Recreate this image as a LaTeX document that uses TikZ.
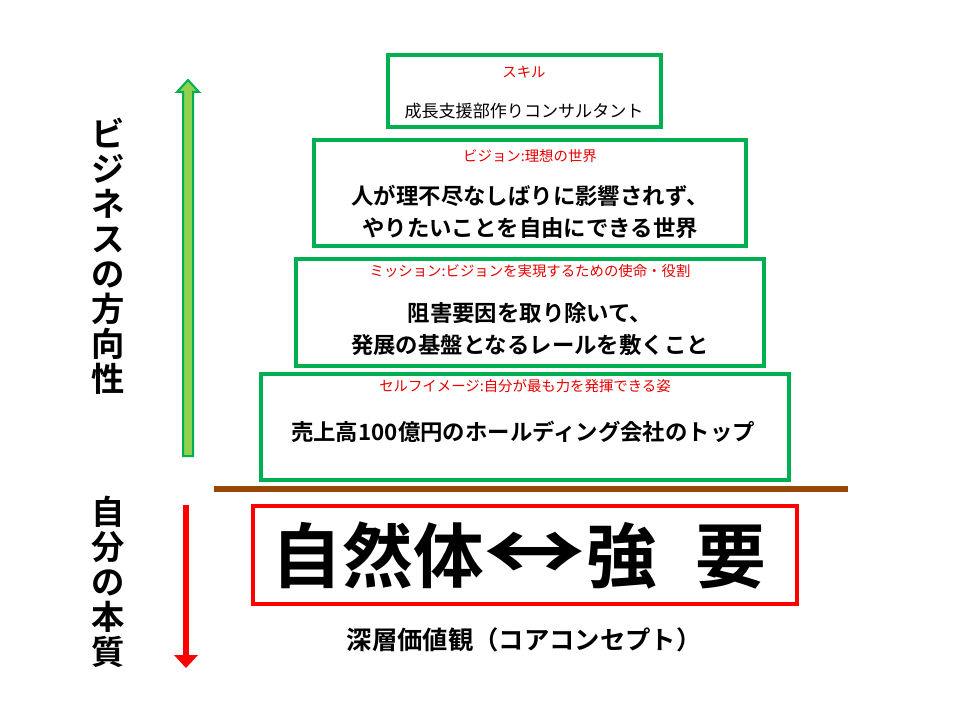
\documentclass[tikz,border=0pt]{standalone}
\usepackage{fontspec}
\newfontfamily\cjk{Noto Sans CJK JP}
\newfontfamily\cjkb{Noto Sans CJK JP Bold}
\definecolor{gbox}{RGB}{0,176,80}
\definecolor{lgreen}{RGB}{146,208,80}
\definecolor{rlabel}{RGB}{230,0,0}
\definecolor{brownline}{RGB}{152,72,6}
\begin{document}
\begin{tikzpicture}[x=0.75pt,y=-0.75pt,
  gbx/.style={draw=gbox,line width=2.4pt,fill=white},
  rlab/.style={text=rlabel,font=\cjk\fontsize{10.8pt}{12pt}\selectfont,anchor=center,inner sep=0pt},
  btxt/.style={font=\cjkb\fontsize{16.8pt}{24pt}\selectfont,align=center,anchor=center,inner sep=0pt},
  vtxt/.style={font=\cjkb\fontsize{25pt}{26.2pt}\selectfont,align=center,anchor=north,inner sep=0pt}]
\useasboundingbox (0,0) rectangle (960,720);
% boxes
\draw[gbx] (388,55) rectangle (661,127);
\draw[gbx] (314,140) rectangle (746,246);
\draw[gbx] (296,259) rectangle (764,366);
\draw[gbx] (261,374) rectangle (789,480);
\node[rlab] (l1) at (524,72) {スキル};
\node[font=\cjk\fontsize{12.8pt}{14pt}\selectfont,inner sep=0pt] (t1) at (524,111) {成長支援部作りコンサルタント};
\node[rlab] (l2) at (530,156) {ビジョン:理想の世界};
\node[btxt] (t2) at (530,212) {人が理不尽なしばりに影響されず、\\やりたいことを自由にできる世界};
\node[rlab] (l3) at (530,271) {ミッション:ビジョンを実現するための使命・役割};
\node[btxt] (t3) at (530,329) {阻害要因を取り除いて、\\発展の基盤となるレールを敷くこと};
\node[rlab] (l4) at (525,386) {セルフイメージ:自分が最も力を発揮できる姿};
\node[btxt] (t4) at (523,432) {売上高100億円のホールディング会社のトップ};
% brown line
\coordinate (bl1) at (214,489);
\coordinate (bl2) at (848,489);
\draw[brownline,line width=3.8pt] (bl1) -- (bl2);
% red box
\draw[draw=red,line width=2.4pt,fill=white] (253,506) rectangle (797,604);
\node[font=\cjkb\fontsize{53pt}{54pt}\selectfont,inner sep=0pt] (core) at (519,556) {自然体\scalebox{1.45}[1.15]{↔}強\hspace{0.55em}要};
\node[font=\cjkb\fontsize{19pt}{21pt}\selectfont,inner sep=0pt] (deep) at (524,640) {深層価値観（コアコンセプト）};
% green arrow
\coordinate (ga1) at (188,456);
\draw[draw=gbox,fill=lgreen,line width=1.5pt,line join=miter]
  (183,456) -- (183,92) -- (177,92) -- (188,80) -- (199,92) -- (193,92) -- (193,456) -- cycle;
% red arrow
\coordinate (ra1) at (186,505);
\coordinate (ra2) at (186,656);
\draw[red,line width=5pt] (ra1) -- (ra2);
\fill[red] (174,655) -- (198,655) -- (186,668) -- cycle;
% left vertical texts
\node[vtxt] (v1) at (108,118) {ビ\\ジ\\ネ\\ス\\の\\方\\向\\性};
\node[vtxt] (v2) at (108,496) {自\\分\\の\\本\\質};
\end{tikzpicture}
\end{document}
